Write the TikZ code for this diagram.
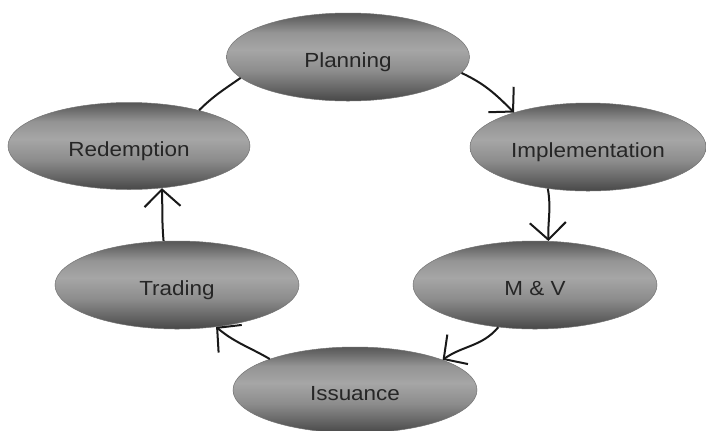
\documentclass[tikz,border=0pt]{standalone}
\usepackage{fontspec}
\usetikzlibrary{shapes.geometric,arrows.meta}
\newfontfamily\lblfont[FakeStretch=1.1]{Liberation Sans}

% grey band: dark rims, light middle (bbox spans 25bp..75bp)
\pgfdeclareverticalshading{ovalshade}{100bp}{%
  color(0bp)=(black!72);
  color(25bp)=(black!72);
  color(31bp)=(black!62);
  color(42bp)=(black!45);
  color(54bp)=(black!35);
  color(64bp)=(black!42);
  color(71bp)=(black!58);
  color(75bp)=(black!66);
  color(100bp)=(black!66)}

\tikzset{
  stage/.style={ellipse, inner sep=0pt, shading=ovalshade, shade,
    draw=black!55, line width=0.5bp,
    text height=20bp, text depth=0bp,
    text=black!85, font=\lblfont\fontsize{20.5}{24}\selectfont},
  flow/.style={line width=2bp, black!90,
    -{Straight Barb[length=17bp,width=36bp]}},
  link/.style={line width=2bp, black!90}
}

\begin{document}
\begin{tikzpicture}[x=1bp,y=-1bp]
\useasboundingbox (0,0) rectangle (706,430);

\node[stage, minimum width=243bp, minimum height=88bp] (plan) at (348,57) {Planning};
\node[stage, minimum width=236bp, minimum height=88bp] (impl) at (588,147) {Implementation};
\node[stage, minimum width=244bp, minimum height=88bp] (mv)   at (535,285) {M \& V};
\node[stage, minimum width=244bp, minimum height=86bp] (iss)  at (355,390) {Issuance};
\node[stage, minimum width=244bp, minimum height=88bp] (trad) at (177,285) {Trading};
\node[stage, minimum width=242bp, minimum height=87bp] (red)  at (129,146) {Redemption};

\draw[flow] (plan.-8)   to[out=-25, in=135] (impl.155);
\draw[flow] (impl.-134) to[out=-80, in=92]  (mv.73);
\draw[flow] (mv.-131)   to[out=-130, in=35] (iss.19);
\draw[flow] (iss.160)   to[out=150, in=-40] (trad.-47);
\draw[flow] (trad.107)  to[out=95, in=-88]  (red.-52);
\draw[link] (red.27)    to[out=45, in=-145] (plan.-169);
\end{tikzpicture}
\end{document}
